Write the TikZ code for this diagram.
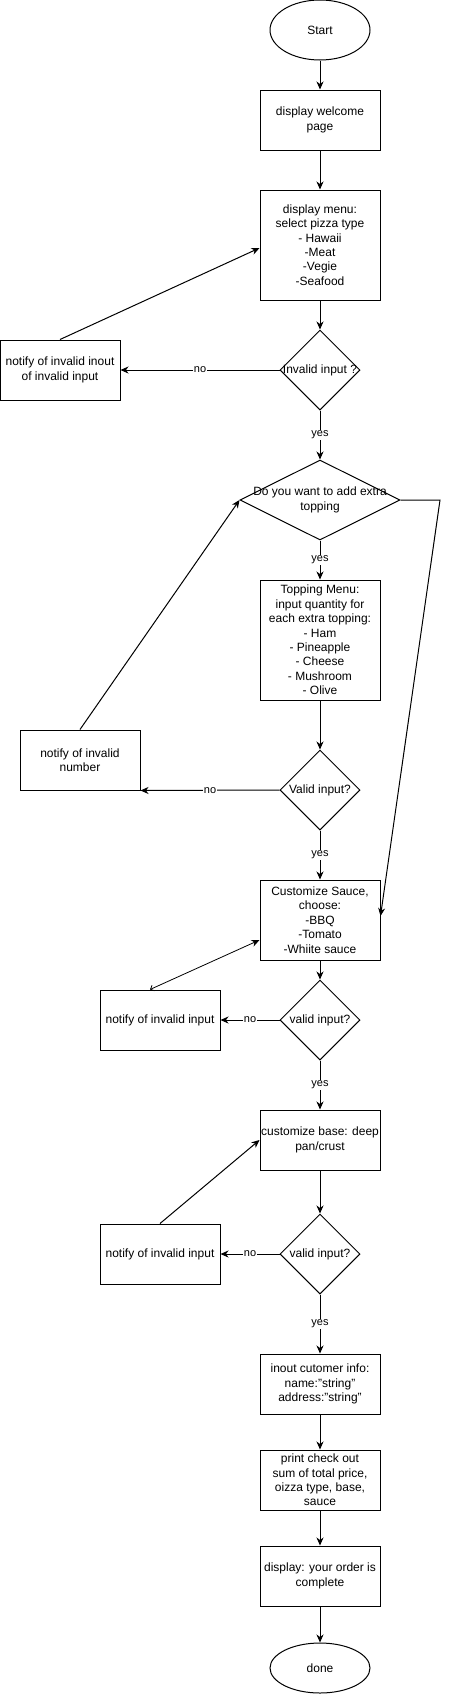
\documentclass[tikz,border=0pt]{standalone}
\usepackage{fontspec}
\setmainfont{Liberation Sans}
\usetikzlibrary{shapes.geometric,arrows.meta}
\newcommand{\wideline}[1]{\makebox[0pt]{#1}}

\begin{document}
\begin{tikzpicture}[x=1pt,y=-1pt,
  every node/.style={font=\fontsize{12}{14.4}\selectfont},
  box/.style={draw,line width=1pt,rectangle,minimum width=120,minimum height=60,align=center,inner sep=0pt},
  dec/.style={draw,line width=1pt,diamond,minimum width=80,minimum height=80,align=center,inner sep=0pt},
  term/.style={draw,line width=1pt,ellipse,minimum width=100,minimum height=60,inner sep=0pt},
  arr/.style={line width=1pt,-{Stealth[length=8pt,width=7pt,inset=2.5pt]}},
  lbl/.style={fill=white,inner sep=1pt,font=\fontsize{11}{13}\selectfont}]
      \useasboundingbox (0,0) rectangle (449,1695);
      \node[term] (start) at (320,30) {Start};
      \node[box] (welcome) at (320,120) {display welcome\\page};
      \node[box,minimum height=110] (menu) at (320,245) {display menu:\\select pizza type\\- Hawaii\\-Meat\\-Vegie\\-Seafood};
      \node[dec] (inv1) at (320,370) {\wideline{Invalid input ?}};
      \node[box] (note1) at (60,370) {notify of invalid inout\\of invalid input};
      \node[dec,minimum width=160] (extra) at (320,500) {\wideline{Do you want to add extra}\\topping};
      \coordinate (bend) at (440,500);
      \node[box,minimum height=120] (topping) at (320,640) {Topping Menu:\\input quantity for\\each extra topping:\\- Ham\\- Pineapple\\- Cheese\\- Mushroom\\- Olive};
      \node[dec] (val1) at (320,790) {\wideline{Valid input?}};
      \node[box] (note2) at (80,760) {notify of invalid\\number};
      \node[box,minimum height=80] (sauce) at (320,920) {Customize Sauce,\\choose:\\-BBQ\\-Tomato\\-Whiite sauce};
      \node[dec] (val2) at (320,1020) {\wideline{valid input?}};
      \node[box] (note3) at (160,1020) {notify of invalid input};
      \node[box] (base) at (320,1140) {customize base: deep\\pan/crust};
      \node[dec] (val3) at (320,1254) {\wideline{valid input?}};
      \node[box] (note4) at (160,1254) {notify of invalid input};
      \node[box] (cust) at (320,1384) {inout cutomer info:\\name:"string"\\address:"string"};
      \node[box] (print) at (320,1480) {print check out\\sum of total price,\\oizza type, base,\\sauce};
      \node[box] (order) at (320,1576) {display: your order is\\complete};
      \node[term,minimum height=50] (done) at (320,1668) {done};
      \draw[arr] (start) -- (welcome);
      \draw[arr] (welcome) -- (menu);
      \draw[arr] (menu) -- (inv1);
      \draw[arr] (inv1.west) -- node[lbl] {no} (note1.east);
      \draw[arr] (note1.north) -- ([yshift=-3pt]menu.west);
      \draw[arr] (inv1.south) -- node[lbl] {yes} (extra.north);
      \draw[arr] (extra.south) -- node[lbl] {yes} (topping.north);
      \draw[arr] (extra.east) -- (bend) -- ([yshift=4pt]sauce.east);
      \draw[arr] (topping) -- (val1);
      \draw[arr] (val1.west) -- node[lbl] {no} (note2.south east);
      \draw[arr] (note2.north) -- (extra.west);
      \draw[arr] (val1.south) -- node[lbl] {yes} (sauce.north);
      \draw[arr] (sauce) -- (val2);
      \draw[arr] (val2.west) -- node[lbl] {no} (note3.east);
      \draw[line width=0.8pt,{Straight Barb[length=3pt,width=6pt]}-{Stealth[length=8pt,width=7pt,inset=2.5pt]}] ([xshift=-10pt]note3.north) -- ([yshift=-20pt]sauce.west);
      \draw[arr] (val2.south) -- node[lbl] {yes} (base.north);
      \draw[arr] (base) -- (val3);
      \draw[arr] (val3.west) -- node[lbl] {no} (note4.east);
      \draw[arr] (note4.north) -- (base.west);
      \draw[arr] (val3.south) -- node[lbl] {yes} (cust.north);
      \draw[arr] (cust) -- (print);
      \draw[arr] (print) -- (order);
      \draw[arr] (order) -- (done);
\end{tikzpicture}
\end{document}
